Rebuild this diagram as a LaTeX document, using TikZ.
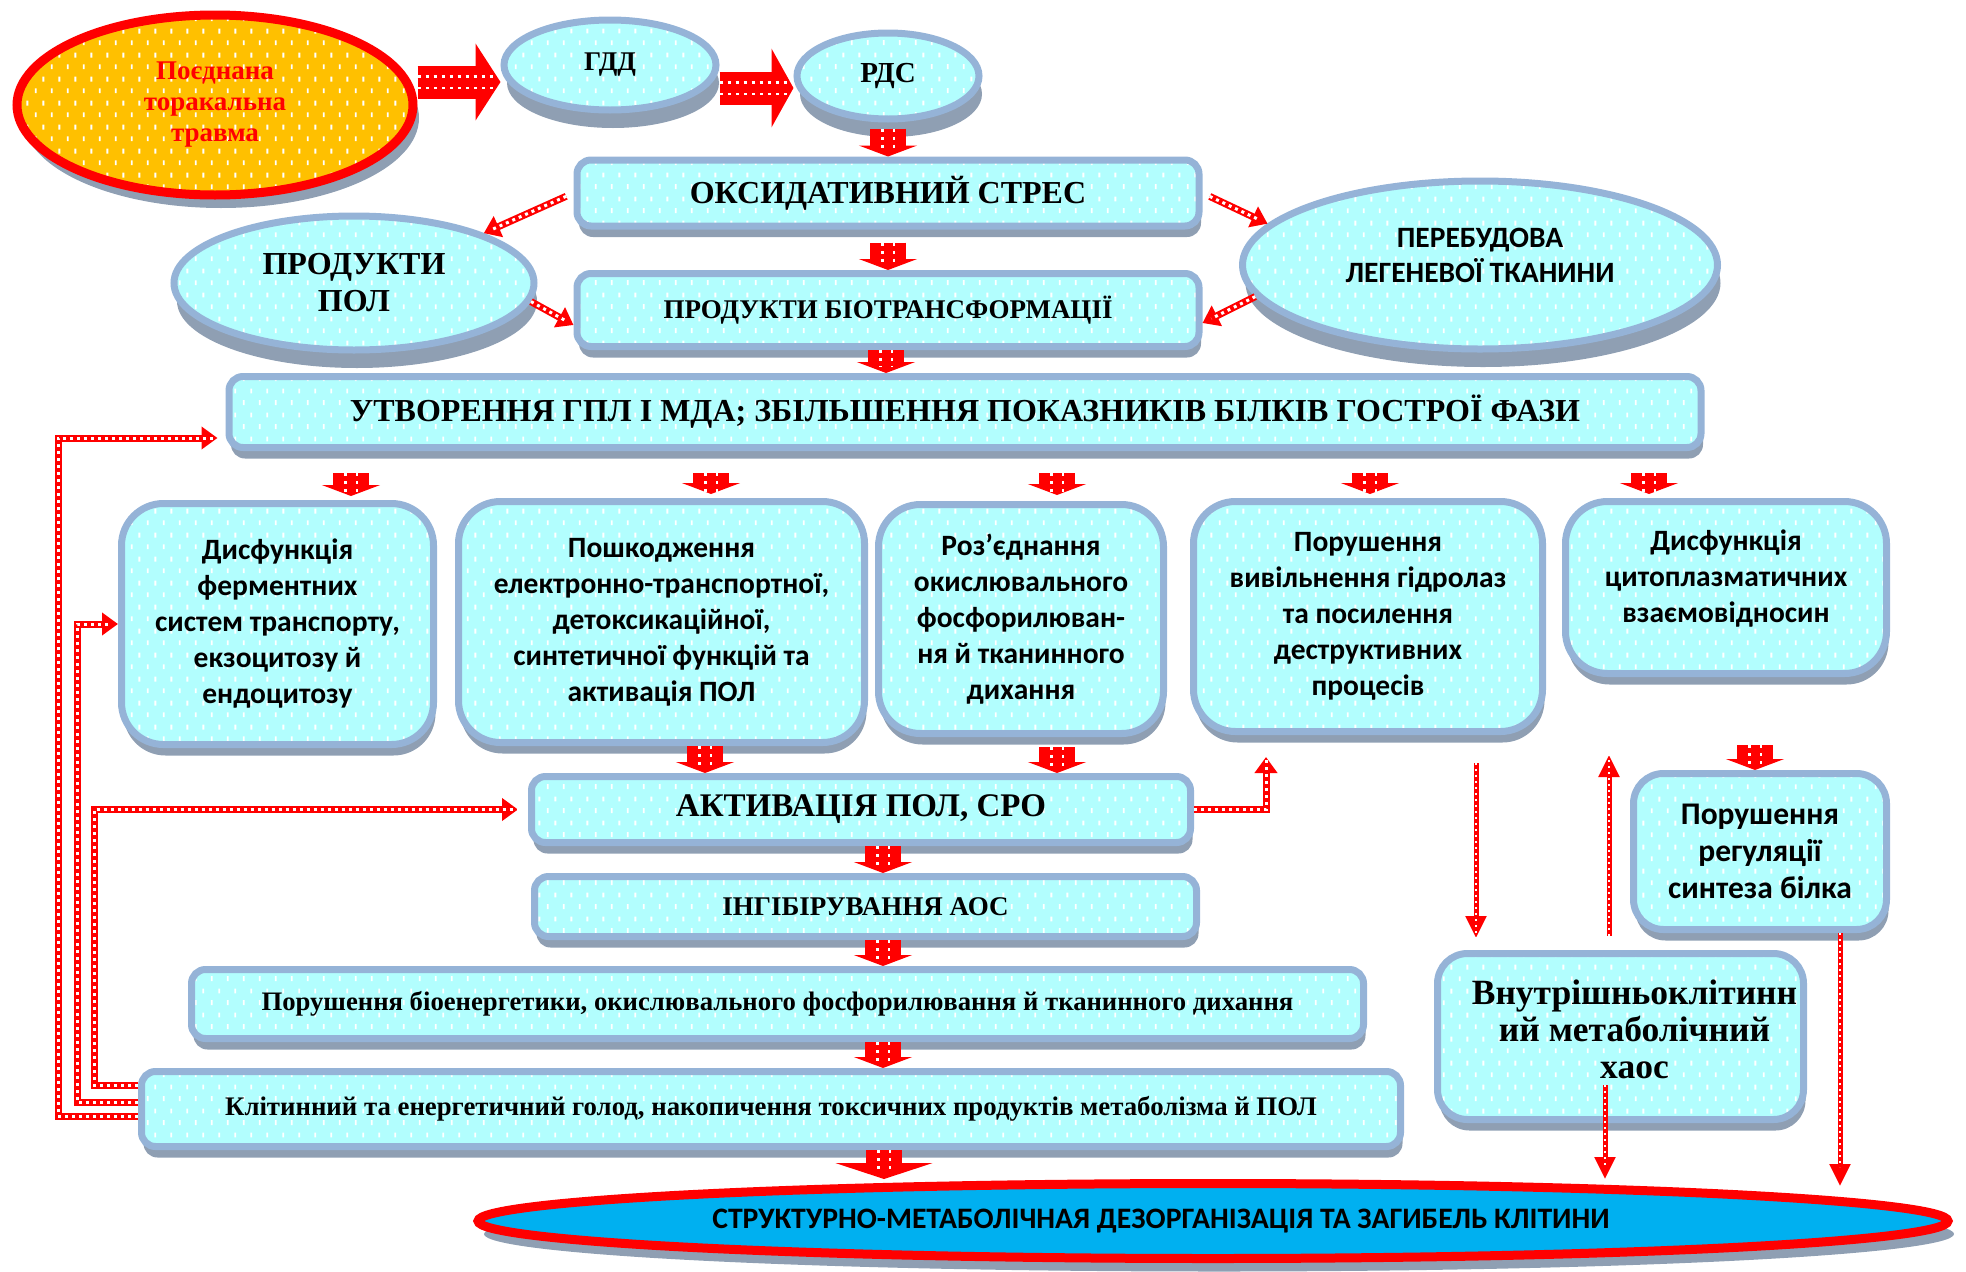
\documentclass[tikz,border=0pt]{standalone}
\usepackage{fontspec}
\setmainfont{Liberation Serif}
\newfontfamily\calibri{Carlito}
\usetikzlibrary{shapes.geometric,arrows.meta,shadows,patterns.meta}
\definecolor{CardFill}{HTML}{B2FEFE}
\definecolor{CardRim}{HTML}{95B3D7}
\definecolor{CardShadow}{HTML}{8F9FB3}
\definecolor{TraumaFill}{HTML}{FFC000}
\definecolor{FlowRed}{HTML}{FF0000}
\definecolor{DeathFill}{HTML}{00B0F0}

% white speckles on the cards
\tikzdeclarepattern{
	name=speckles,
	type=uncolored,
	bounding box={(0pt,0pt) and (16pt,24pt)},
	tile size={(16pt,24pt)},
	code={
		\fill (3pt,3pt) rectangle (5pt,8pt);
		\fill (11pt,15pt) rectangle (13pt,20pt);
	}
}

\begin{document}
\begin{tikzpicture}[
	x=1pt, y=-1pt, % one unit = one pixel of the scheme, y runs downwards
	% Style for the rectangular cards
	card/.style={
		rectangle,
		rounded corners=14pt,
		draw=CardRim,         % blue rim
		line width=7pt,
		drop shadow={shadow xshift=2pt, shadow yshift=-11pt, fill=CardShadow, opacity=1},
		preaction={fill=CardFill},
		pattern=speckles, pattern color=white,
		inner sep=0pt, align=center,
		font=\bfseries\fontsize{32}{36}\selectfont
	},
	% cards of the middle row, round corners and sans text
	softcard/.style={
		card, rounded corners=42pt,
		font=\calibri\bfseries\fontsize{29.5}{36}\selectfont
	},
	% Style for the blue ovals
	disc/.style={
		ellipse,
		draw=CardRim, line width=7pt,
		drop shadow={shadow xshift=3pt, shadow yshift=-18pt, fill=CardShadow, opacity=1},
		preaction={fill=CardFill},
		pattern=speckles, pattern color=white,
		inner sep=0pt, align=center,
		font=\bfseries\fontsize{32}{37}\selectfont
	},
	% ovals with the red rim (start and end)
	redoval/.style={
		ellipse,
		draw=FlowRed, line width=9pt,
		drop shadow={shadow xshift=6pt, shadow yshift=-13pt, fill=CardShadow, opacity=1},
		inner sep=0pt, align=center
	},
	% short fat red arrows
	block/.style={
		draw=FlowRed, line width=36pt,
		-{Triangle[width=58pt, length=11pt]},
		postaction={-, draw=white, double=FlowRed, double distance=9pt, line width=2.5pt,
			dash pattern=on 3pt off 5pt, shorten >=6pt}
	},
	% long thin red arrows
	chain/.style={
		draw=FlowRed, line width=7pt,
		-{Triangle[width=22pt, length=16pt]},
		postaction={-, draw=white, line width=3pt, dash pattern=on 3pt off 4pt, shorten >=10pt}
	},
	thinchain/.style={
		draw=FlowRed, line width=5pt,
		-{Triangle[width=20pt, length=22pt]},
		postaction={-, draw=white, line width=2pt, dash pattern=on 2pt off 4pt, shorten >=12pt}
	}
	]
	\useasboundingbox (0,0) rectangle (1966,1272);
	
	% 1. Upper part: ovals and cards
	\node[redoval, preaction={fill=TraumaFill}, pattern=speckles, pattern color=white,
		minimum width=396pt, minimum height=180pt,
		text=FlowRed, font=\bfseries\fontsize{27}{31}\selectfont] (trauma) at (215,105) {Поєднана\\торакальна\\травма};
	\node[disc, minimum width=212pt, minimum height=90pt, font=\bfseries\fontsize{27}{32}\selectfont] (gdd) at (610,65) {ГДД};
	\node[disc, minimum width=182pt, minimum height=86pt, font=\bfseries\fontsize{29}{34}\selectfont] (rds) at (888,76) {РДС};
	\node[card, minimum width=622pt, minimum height=66pt] (stress) at (888,193) {ОКСИДАТИВНИЙ СТРЕС};
	\node[disc, minimum width=360pt, minimum height=134pt] (lpo) at (354,283) {ПРОДУКТИ\\ПОЛ};
	\node[card, minimum width=622pt, minimum height=73pt, font=\bfseries\fontsize{27}{30}\selectfont] (biotrans) at (888,310) {ПРОДУКТИ БІОТРАНСФОРМАЦІЇ};
	\node[disc, minimum width=475pt, minimum height=168pt, text depth=20pt, font=\calibri\bfseries\fontsize{29.5}{35}\selectfont] (remodel) at (1480,265) {ПЕРЕБУДОВА\\ЛЕГЕНЕВОЇ ТКАНИНИ};
	\node[card, minimum width=1472pt, minimum height=71pt] (hpl) at (965,412) {УТВОРЕННЯ ГПЛ І МДА; ЗБІЛЬШЕННЯ ПОКАЗНИКІВ БІЛКІВ ГОСТРОЇ ФАЗИ};
	
	% 2. Middle row of cards
	\node[softcard, minimum width=312pt, minimum height=241pt] (enzyme) at (277.5,624) {Дисфункція\\ферментних\\систем транспорту,\\екзоцитозу й\\ендоцитозу};
	\node[softcard, minimum width=406pt, minimum height=241pt] (damage) at (661.5,622) {Пошкодження\\електронно-транспортної,\\детоксикаційної,\\синтетичної функцій та\\активація ПОЛ};
	\node[softcard, minimum width=285pt, minimum height=229pt] (uncouple) at (1021,619) {Роз’єднання\\окислювального\\фосфорилюван-\\ня й тканинного\\дихання};
	\node[softcard, minimum width=349pt, minimum height=230pt] (hydrolase) at (1368,616.5) {Порушення\\вивільнення гідролаз\\та посилення\\деструктивних\\процесів};
	\node[softcard, minimum width=321pt, minimum height=172pt, text depth=22pt] (cytoplasm) at (1726,587.5) {Дисфункція\\цитоплазматичних\\взаємовідносин};
	
	% 3. Lower part
	\node[card, minimum width=659pt, minimum height=66pt, font=\bfseries\fontsize{33}{36}\selectfont] (activation) at (861,809.5) {АКТИВАЦІЯ ПОЛ, СРО};
	\node[card, minimum width=662pt, minimum height=60pt, font=\bfseries\fontsize{27}{30}\selectfont] (aos) at (865.5,906.5) {ІНГІБІРУВАННЯ АОС};
	\node[card, minimum width=1172pt, minimum height=69pt, font=\bfseries\fontsize{26.7}{30}\selectfont] (bioenergy) at (777.5,1004) {Порушення біоенергетики, окислювального фосфорилювання й тканинного дихання};
	\node[card, minimum width=1259pt, minimum height=75pt, font=\bfseries\fontsize{26.8}{30}\selectfont] (hunger) at (771,1109) {Клітинний та енергетичний голод, накопичення токсичних продуктів метаболізма й ПОЛ};
	\node[softcard, rounded corners=30pt, minimum width=253pt, minimum height=156pt, font=\calibri\bfseries\fontsize{31.5}{37}\selectfont] (synthesis) at (1760,851.5) {Порушення\\регуляції\\синтеза білка};
	\node[card, rounded corners=30pt, minimum width=366pt, minimum height=166pt, text depth=15pt, font=\bfseries\fontsize{35.5}{37}\selectfont] (chaos) at (1620.5,1036.5) {\hspace*{28pt}Внутрішньоклітинн\\\hspace*{28pt}ий метаболічний\\\hspace*{28pt}хаос};
	\node[redoval, fill=DeathFill, minimum width=1470pt, minimum height=75pt, font=\calibri\bfseries\fontsize{29.7}{34}\selectfont] (death) at (1213,1221) {СТРУКТУРНО-МЕТАБОЛІЧНАЯ ДЕЗОРГАНІЗАЦІЯ ТА ЗАГИБЕЛЬ КЛІТИНИ\hspace*{104pt}};
	
	% 4. Fat arrows
	\draw[block, line width=33pt, -{Triangle[width=76pt, length=25pt]}] ([yshift=-17pt]gdd.west -| trauma.east) -- ([yshift=-17pt]gdd.west);
	\draw[block, line width=33pt, -{Triangle[width=78pt, length=22pt]}] ([yshift=-12pt]rds.west -| gdd.east) -- ([yshift=-12pt]rds.west);
	\draw[block, shorten <=6pt] (rds.south) -- (stress.north);
	\draw[block, shorten <=13pt] (stress.south) -- (biotrans.north);
	\draw[block] (886,0 |- biotrans.south) -- (886,0 |- hpl.north);
	\draw[block, shorten <=22pt, shorten >=4pt] (351,0 |- hpl.south) -- (351,0 |- enzyme.north);
	\draw[block, shorten <=22pt, shorten >=4pt] (711,0 |- hpl.south) -- (711,0 |- damage.north);
	\draw[block, shorten <=22pt, shorten >=6pt] (1057,0 |- hpl.south) -- (1057,0 |- uncouple.north);
	\draw[block, shorten <=22pt, shorten >=4pt] (1370,0 |- hpl.south) -- (1370,0 |- hydrolase.north);
	\draw[block, shorten <=22pt, shorten >=4pt] (1649,0 |- hpl.south) -- (1649,0 |- cytoplasm.north);
	\draw[block] (705,0 |- damage.south) -- (705,0 |- activation.north);
	\draw[block, shorten <=10pt] (1057,0 |- uncouple.south) -- (1057,0 |- activation.north);
	\draw[block, shorten <=68pt] (1755,0 |- cytoplasm.south) -- (1755,0 |- synthesis.north);
	\draw[block] (883,0 |- activation.south) -- (883,0 |- aos.north);
	\draw[block] (883,0 |- aos.south) -- (883,0 |- bioenergy.north);
	\draw[block] (883,0 |- bioenergy.south) -- (883,0 |- hunger.north);
	\draw[block, -{Triangle[width=97pt, length=16pt]}] (884,0 |- hunger.south) -- (884,0 |- death.north);
	
	% 5. Thin arrows
	\draw[chain, shorten <=8pt] (stress.west) -- (lpo.21);
	\draw[chain] (lpo.-6) -- ([yshift=-15pt]biotrans.west);
	\draw[chain, shorten <=8pt] (stress.east) -- (remodel.169);
	\draw[chain] (remodel.-172) -- ([yshift=-13pt]biotrans.east);
	\draw[chain, shorten >=8pt] ([yshift=-7pt]hunger.west) -- ++(-80,0) |- ([yshift=-26pt]hpl.west);
	\draw[chain] ([yshift=7pt]hunger.west) -- ++(-61,0) |- (enzyme.west);
	\draw[chain, shorten >=10pt] ([yshift=24pt]hunger.west) -- ++(-44,0) |- (activation.west);
	\draw[chain, shorten >=22pt] (activation.east) -| (hydrolase.south -| 1266,0);
	\draw[thinchain, shorten <=28pt, shorten >=12pt] (1476,0 |- hydrolase.south) -- (1476,0 |- chaos.north);
	\draw[thinchain, shorten <=14pt, shorten >=78pt] (1609,0 |- chaos.north) -- (1609,0 |- cytoplasm.south);
	\draw[thinchain, shorten <=-38pt] (1605,0 |- chaos.south) -- (1605,0 |- death.north);
	\draw[thinchain, shorten >=-7pt] (1840,0 |- synthesis.south) -- (1840,0 |- death.north);
	
\end{tikzpicture}
\end{document}
